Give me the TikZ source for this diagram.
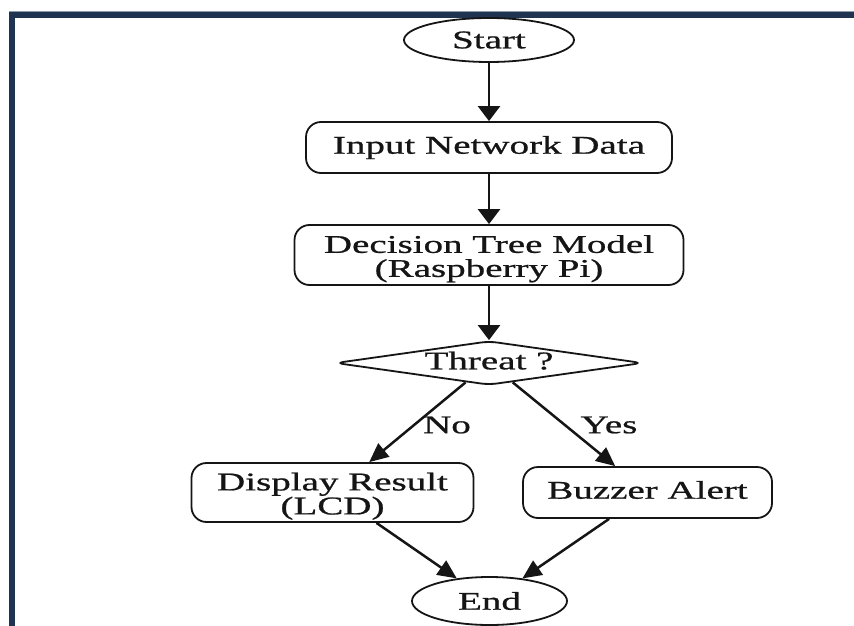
\documentclass[tikz,border=0pt]{standalone}
\usepackage{fontspec}
\setmainfont{Liberation Serif}[FakeStretch=1.53,FakeBold=0.8]
\usetikzlibrary{shapes.geometric,arrows.meta}
\definecolor{frame}{HTML}{1E3450}
\definecolor{frameedge}{HTML}{8A9BB0}
\definecolor{ink}{HTML}{151515}
\begin{document}
\begin{tikzpicture}[x=1pt,y=-1pt,
  every node/.style={font=\fontsize{25.5}{24}\selectfont, text=ink},
  term/.style={ellipse, draw=ink, line width=1.8pt, inner sep=0pt},
  proc/.style={rectangle, rounded corners=15pt, draw=ink, line width=1.8pt, align=center, inner sep=0pt, text depth=5.3pt},
  twoline/.style={text height=49pt},
  decide/.style={diamond, shape aspect=7, rounded corners=8pt, draw=ink, line width=1.8pt, inner sep=0pt, text depth=5pt},
  flow/.style={draw=ink, line width=2.5pt, -{Triangle[length=15pt,width=22pt]}},
  flowd/.style={draw=ink, line width=2.5pt, -{Triangle[length=19pt,width=17pt]}},
  lbl/.style={inner sep=0pt}
]
\fill[white] (0,0) rectangle (854,626);
\useasboundingbox (0,0) rectangle (854,626);
\fill[frameedge] (9,11.5) rectangle (854,13);
\fill[frame] (9,12.5) rectangle (854,18);
\fill[frameedge] (14,18) rectangle (15,626);
\fill[frame] (9,12.5) rectangle (14.5,626);

\node[term, minimum width=170pt, minimum height=44pt] (start) at (489,40) {Start};
\node[proc, minimum width=366pt, minimum height=51pt] (input) at (489,147.5) {Input Network Data};
\node[proc, twoline, minimum width=389pt, minimum height=60pt] (model) at (489,255) {Decision Tree Model\\(Raspberry Pi)};
\node[decide, minimum width=307pt, minimum height=44pt] (threat) at (489,363) {Threat ?};
\node[proc, twoline, minimum width=282pt, minimum height=59pt] (display) at (332.5,492.5) {Display Result\\(LCD)};
\node[proc, minimum width=249pt, minimum height=51pt] (buzzer) at (647.5,492.5) {Buzzer Alert};
\node[term, minimum width=155pt, minimum height=48pt] (end) at (489.5,601) {End};
\node[lbl] (no) at (447,425) {No};
\node[lbl] (yes) at (609,425) {Yes};

\draw[flow] (start) -- (input);
\draw[flow] (input) -- (model);
\draw[flow] (model) -- (threat);
\draw[flowd] (threat) -- (display);
\draw[flowd] (threat) -- (buzzer);
\draw[flowd] (display) -- (end);
\draw[flowd] (buzzer) -- (end);
\end{tikzpicture}
\end{document}
